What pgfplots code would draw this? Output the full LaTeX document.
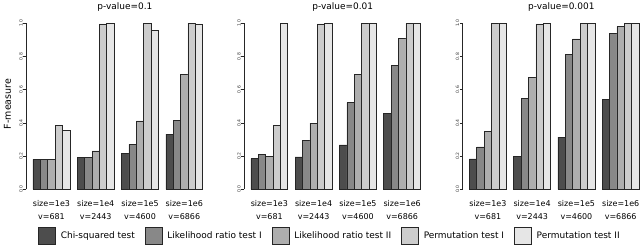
\documentclass[border=0pt]{standalone}
\usepackage{pgfplots}
\pgfplotsset{compat=1.18}
\usepackage{fontspec}
\setmainfont{DejaVu Sans}
\definecolor{c1}{HTML}{4D4D4D}
\definecolor{c2}{HTML}{888888}
\definecolor{c3}{HTML}{AEAEAE}
\definecolor{c4}{HTML}{CCCCCC}
\definecolor{c5}{HTML}{E6E6E6}
\pgfplotsset{
  panel/.style={
    anchor=south west,
    x=7.38bp, y=166bp, xmin=0.08, xmax=24.92, ymin=0, ymax=1,
    ybar, bar width=1,
    axis x line*=bottom, axis y line*=left,
    axis line style={-},
    x axis line style={draw=none},
    y axis line style={black!85, line width=0.6bp},
    xtick={3.5,9.5,15.5,21.5},
    xticklabels={{size=1e3\\v=681},{size=1e4\\v=2443},{size=1e5\\v=4600},{size=1e6\\v=6866}},
    xtick style={draw=none},
    xticklabel style={align=center, font=\fontsize{8}{13.5}\selectfont, inner sep=0pt, yshift=-8bp},
    ytick={0,0.2,0.4,0.6,0.8,1},
    yticklabels={0.0,0.2,0.4,0.6,0.8,1.0},
    yticklabel style={rotate=90, anchor=south, font=\fontsize{4.5}{4.5}\selectfont, inner sep=0.6bp, text=black!80},
    ytick style={black!85, line width=0.6bp},
    tick align=outside, major tick length=2.7bp,
    clip=false,
    every axis title/.style={at={(axis description cs:0.5,1.086)}, anchor=base, font=\fontsize{9}{9}\selectfont, xshift=7bp, inner sep=0pt},
    every axis plot/.append style={draw=black!85, line width=0.6bp},
  }
}
\begin{document}
\begin{tikzpicture}
\useasboundingbox (0,0) rectangle (640bp,249bp);
% Panel 1
\begin{axis}[panel, at={(26.2bp,59.7bp)}, title={p-value=0.1},
  ylabel={F-measure},
  ylabel style={at={(axis description cs:-0.102,0.514)}, anchor=center, font=\fontsize{9.5}{9.5}\selectfont, inner sep=0pt},
  legend columns=5,
  legend style={at={(axis description cs:0.0644,-0.2813)}, anchor=west, draw=none, fill=none, inner sep=0pt,
    font=\fontsize{9}{9}\selectfont, nodes={inner sep=0pt},
    /tikz/every odd column/.append style={column sep=5bp},
    /tikz/every even column/.append style={column sep=10bp}},
  legend image code/.code={\draw[#1] (0bp,-8.5bp) rectangle (17bp,8.5bp);}]
\addplot[fill=c1, bar shift=0] coordinates {(1.5,0.181) (7.5,0.193) (13.5,0.217) (19.5,0.333)};
\addplot[fill=c2, bar shift=0] coordinates {(2.5,0.181) (8.5,0.193) (14.5,0.271) (20.5,0.414)};
\addplot[fill=c3, bar shift=0] coordinates {(3.5,0.179) (9.5,0.231) (15.5,0.412) (21.5,0.693)};
\addplot[fill=c4, bar shift=0] coordinates {(4.5,0.386) (10.5,0.996) (16.5,1.0) (22.5,1.0)};
\addplot[fill=c5, bar shift=0] coordinates {(5.5,0.355) (11.5,1.0) (17.5,0.958) (23.5,0.996)};
\legend{Chi-squared test,Likelihood ratio test I,Likelihood ratio test II,Permutation test I,Permutation test II}
\end{axis}
% Panel 2
\begin{axis}[panel, at={(244.1bp,59.7bp)}, title={p-value=0.01}]
\addplot[fill=c1, bar shift=0] coordinates {(1.5,0.185) (7.5,0.195) (13.5,0.267) (19.5,0.456)};
\addplot[fill=c2, bar shift=0] coordinates {(2.5,0.211) (8.5,0.295) (14.5,0.522) (20.5,0.745)};
\addplot[fill=c3, bar shift=0] coordinates {(3.5,0.199) (9.5,0.398) (15.5,0.693) (21.5,0.908)};
\addplot[fill=c4, bar shift=0] coordinates {(4.5,0.386) (10.5,0.996) (16.5,1.0) (22.5,1.0)};
\addplot[fill=c5, bar shift=0] coordinates {(5.5,1.0) (11.5,1.0) (17.5,1.0) (23.5,1.0)};
\end{axis}
% Panel 3
\begin{axis}[panel, at={(462.6bp,59.7bp)}, title={p-value=0.001}]
\addplot[fill=c1, bar shift=0] coordinates {(1.5,0.183) (7.5,0.197) (13.5,0.315) (19.5,0.542)};
\addplot[fill=c2, bar shift=0] coordinates {(2.5,0.255) (8.5,0.548) (14.5,0.813) (20.5,0.938)};
\addplot[fill=c3, bar shift=0] coordinates {(3.5,0.347) (9.5,0.675) (15.5,0.906) (21.5,0.980)};
\addplot[fill=c4, bar shift=0] coordinates {(4.5,1.0) (10.5,0.996) (16.5,1.0) (22.5,1.0)};
\addplot[fill=c5, bar shift=0] coordinates {(5.5,1.0) (11.5,1.0) (17.5,1.0) (23.5,1.0)};
\end{axis}
\end{tikzpicture}
\end{document}
